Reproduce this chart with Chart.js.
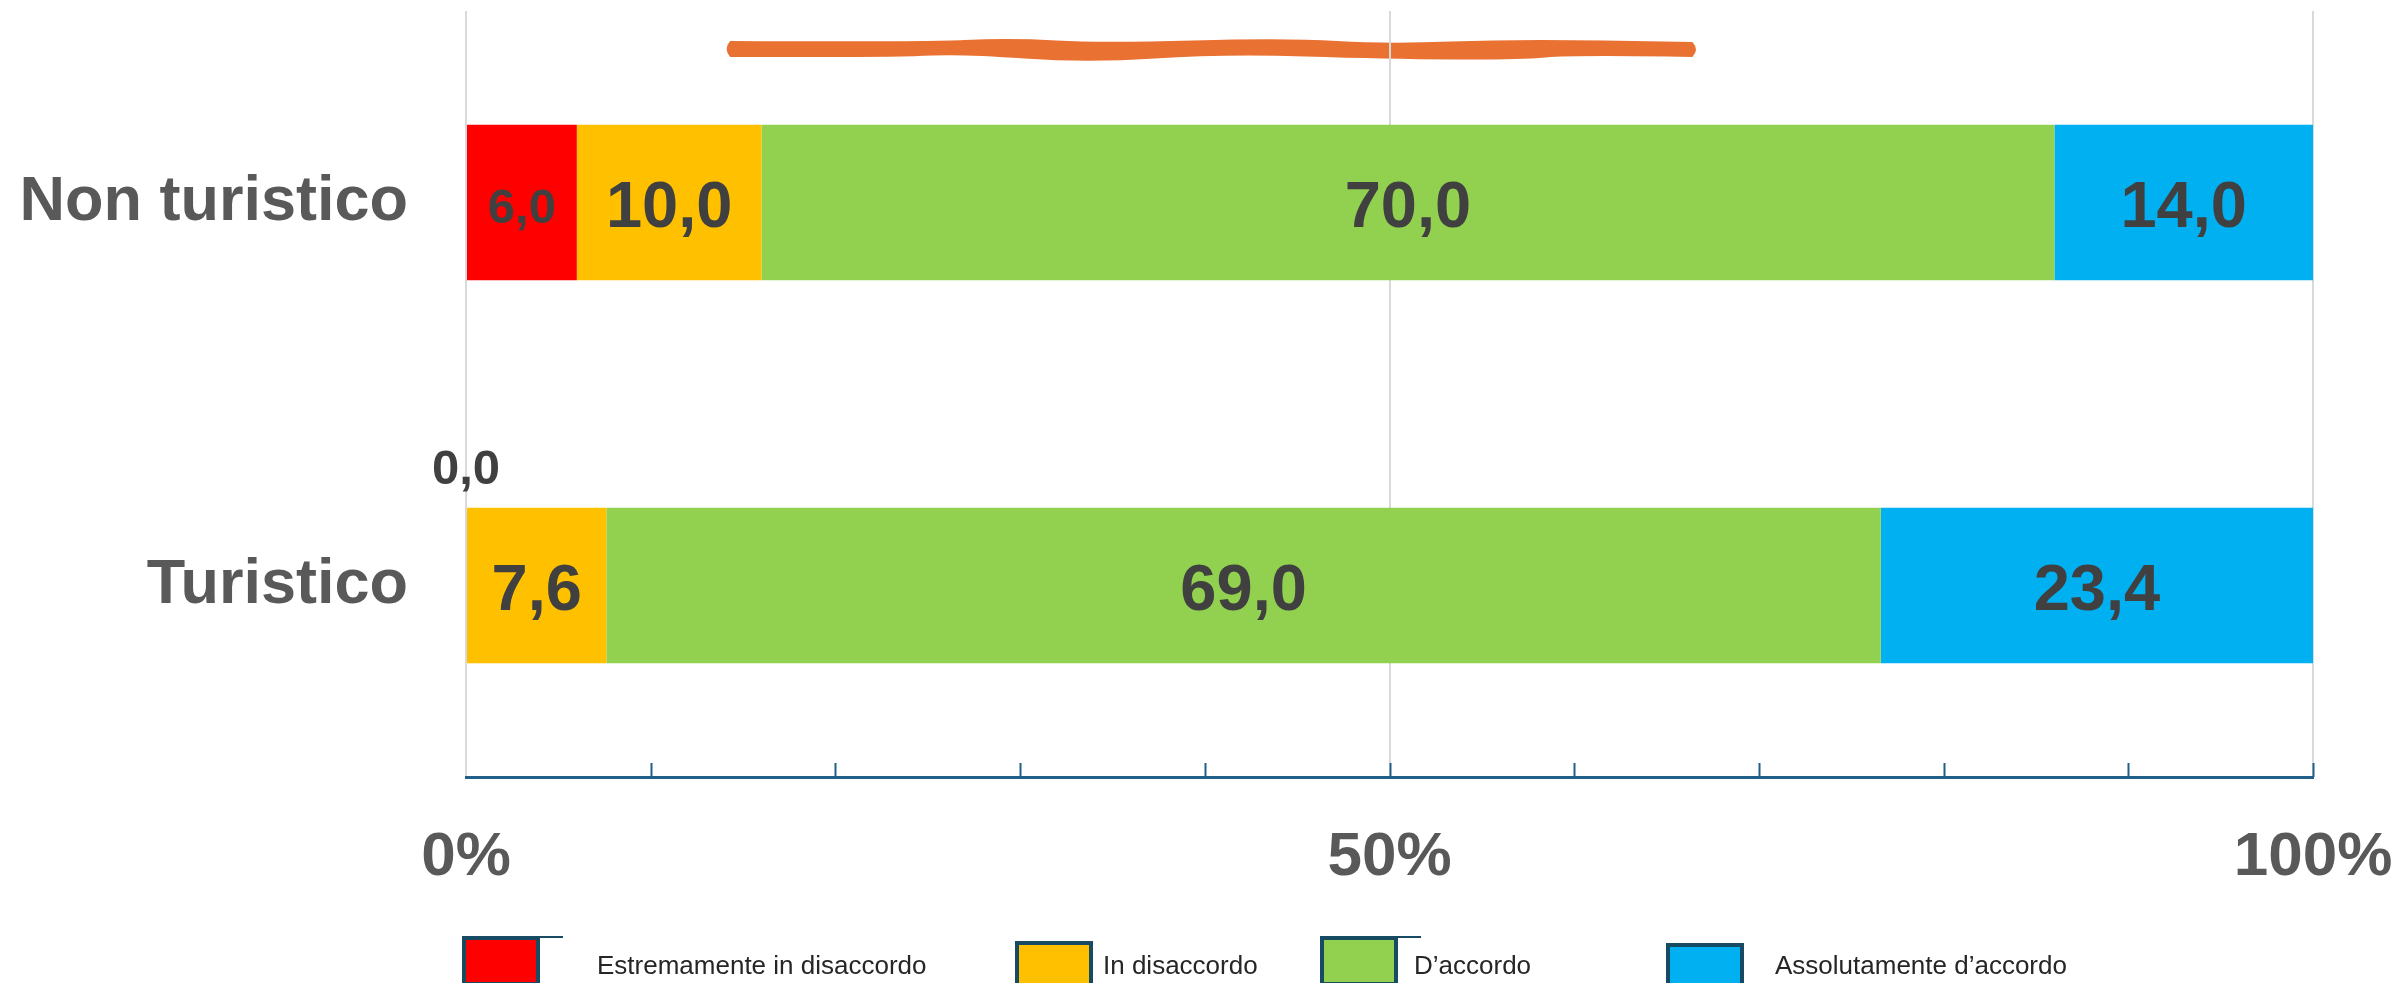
<!DOCTYPE html>
<html lang="it">
<head>
<meta charset="UTF-8">
<title>Turistico / Non turistico</title>
<script src="https://cdn.jsdelivr.net/npm/chart.js"></script>
<style>
    body { margin: 0; background: #fff; }
    #chart { display: block; }
</style>
</head>
<body>
<canvas id="chart" width="2400" height="983"></canvas>
<script>
    // data
    const categories = ['Non turistico', 'Turistico'];
    const seriesNames = ['Estremamente in disaccordo', 'In disaccordo', 'D\u2019accordo', 'Assolutamente d\u2019accordo'];
    const estremamenteDisaccordo = [6.0, 0.0];
    const inDisaccordo = [10.0, 7.6];
    const dAccordo = [70.0, 69.0];
    const assolutamenteAccordo = [14.0, 23.4];
    const tickLabels = ['0%', '50%', '100%'];

    const colors = ['#FF0000', '#FFC000', '#92D050', '#00B0F0'];
    const labelSizes = [49, 65, 65, 65];
    const FONT = '"Liberation Sans", Arial, sans-serif';

    // legend layout (box x, box y, text x, little tail line)
    const legendPos = [
        [462, 936, 597, true],
        [1015, 941, 1103, false],
        [1320, 936, 1414, true],
        [1666, 943, 1775, false]
    ];

    // hand drawn orange underline, x in axis percent, y in px
    const squiggleTop = [[14.3, 41], [24.5, 42], [29.5, 38], [34.4, 43], [44.4, 38], [49.9, 44], [56.8, 39], [66.4, 42]];
    const squiggleBottom = [[66.4, 57], [60.1, 55], [56.8, 60], [49.9, 59], [41.0, 54], [33.6, 63], [26.9, 54], [23.6, 57], [14.3, 57]];

    const fmt = v => v.toFixed(1).replace('.', ',');

    function smoothPath(ctx, pts, first) {
        if (first) ctx.moveTo(pts[0][0], pts[0][1]); else ctx.lineTo(pts[0][0], pts[0][1]);
        for (let i = 1; i < pts.length - 1; i++) {
            const mx = (pts[i][0] + pts[i + 1][0]) / 2, my = (pts[i][1] + pts[i + 1][1]) / 2;
            ctx.quadraticCurveTo(pts[i][0], pts[i][1], mx, my);
        }
        const last = pts[pts.length - 1];
        ctx.lineTo(last[0], last[1]);
    }

    const squigglePlugin = {
        id: 'squiggle',
        beforeDraw(chart) {
            const ctx = chart.ctx, x = chart.scales.x;
            const toPx = p => [x.getPixelForValue(p[0]), p[1]];
            const top = squiggleTop.map(toPx), bot = squiggleBottom.map(toPx);
            ctx.save();
            ctx.fillStyle = '#E97132';
            ctx.beginPath();
            smoothPath(ctx, top, true);
            // rounded ends
            const tr = top[top.length - 1], br = bot[0];
            ctx.quadraticCurveTo(tr[0] + 7, (tr[1] + br[1]) / 2, br[0], br[1]);
            smoothPath(ctx, bot, false);
            const bl = bot[bot.length - 1], tl = top[0];
            ctx.quadraticCurveTo(bl[0] - 7, (bl[1] + tl[1]) / 2, tl[0], tl[1]);
            ctx.closePath();
            ctx.fill();
            ctx.restore();
        }
    };

    const decorPlugin = {
        id: 'decor',
        afterDatasetsDraw(chart) {
            const ctx = chart.ctx;
            const x = chart.scales.x;
            const bottom = chart.chartArea.bottom;
            ctx.save();
            // minor tick marks pointing up
            ctx.strokeStyle = '#215F8A';
            ctx.lineWidth = 2;
            for (let v = 10; v <= 100; v += 10) {
                const px = Math.round(x.getPixelForValue(v)) + 0.5;
                ctx.beginPath();
                ctx.moveTo(px, bottom - 14);
                ctx.lineTo(px, bottom);
                ctx.stroke();
            }
            // value labels
            ctx.fillStyle = '#404040';
            ctx.textAlign = 'center';
            ctx.textBaseline = 'middle';
            chart.data.datasets.forEach((ds, di) => {
                const meta = chart.getDatasetMeta(di);
                ctx.font = 'bold ' + labelSizes[di] + 'px ' + FONT;
                meta.data.forEach((el, i) => {
                    const v = ds.data[i];
                    if (v > 0) {
                        ctx.fillText(fmt(v), (el.x + el.base) / 2, el.y + 7);
                    } else {
                        ctx.fillText(fmt(v), el.x, el.y - el.height / 2 - 37);
                    }
                });
            });
            ctx.restore();
        },
        afterDraw(chart) {
            const ctx = chart.ctx;
            ctx.save();
            legendPos.forEach((p, i) => {
                const [bx, by, tx, tail] = p;
                ctx.fillStyle = colors[i];
                ctx.fillRect(bx, by, 78, 46);
                ctx.strokeStyle = '#174A63';
                ctx.lineWidth = 4;
                ctx.strokeRect(bx + 2, by + 2, 74, 46);
                if (tail) {
                    ctx.lineWidth = 2;
                    ctx.beginPath();
                    ctx.moveTo(bx + 78, by + 1);
                    ctx.lineTo(bx + 101, by + 1);
                    ctx.stroke();
                }
                ctx.fillStyle = '#262626';
                ctx.font = '26px ' + FONT;
                ctx.textAlign = 'left';
                ctx.textBaseline = 'alphabetic';
                ctx.fillText(seriesNames[i], tx, 974);
            });
            ctx.restore();
        }
    };

    const seriesData = [estremamenteDisaccordo, inDisaccordo, dAccordo, assolutamenteAccordo];

    new Chart(document.getElementById('chart'), {
        type: 'bar',
        data: {
            labels: categories,
            datasets: seriesNames.map((name, i) => ({
                label: name,
                data: seriesData[i],
                backgroundColor: colors[i],
                borderWidth: 0,
                categoryPercentage: 1,
                barPercentage: 0.406
            }))
        },
        options: {
            indexAxis: 'y',
            responsive: false,
            animation: false,
            layout: { padding: { left: 0, top: 11, right: 87, bottom: 56 } },
            plugins: {
                legend: { display: false },
                tooltip: { enabled: false }
            },
            scales: {
                x: {
                    stacked: true,
                    min: 0,
                    max: 100,
                    afterFit: s => { s.height = 150; },
                    ticks: {
                        stepSize: 10,
                        autoSkip: false,
                        maxRotation: 0,
                        padding: 0,
                        color: '#595959',
                        font: { family: FONT, size: 62, weight: 'bold' },
                        callback: v => (v % 50 === 0 ? tickLabels[v / 50] : '')
                    },
                    grid: {
                        drawTicks: true,
                        tickLength: 44,
                        tickColor: 'rgba(0,0,0,0)',
                        lineWidth: 2,
                        color: c => (c.tick && c.tick.value % 50 === 0 ? '#D9D9D9' : 'rgba(0,0,0,0)')
                    },
                    border: { display: true, color: '#215F8A', width: 3 }
                },
                y: {
                    stacked: true,
                    afterFit: s => { s.width = 466; },
                    grid: { display: false, drawTicks: true, tickLength: 58 },
                    border: { display: false },
                    ticks: {
                        padding: 0,
                        color: '#595959',
                        font: { family: FONT, size: 63, weight: 'bold', lineHeight: 0.3 }
                    }
                }
            }
        },
        plugins: [squigglePlugin, decorPlugin]
    });
</script>
</body>
</html>
